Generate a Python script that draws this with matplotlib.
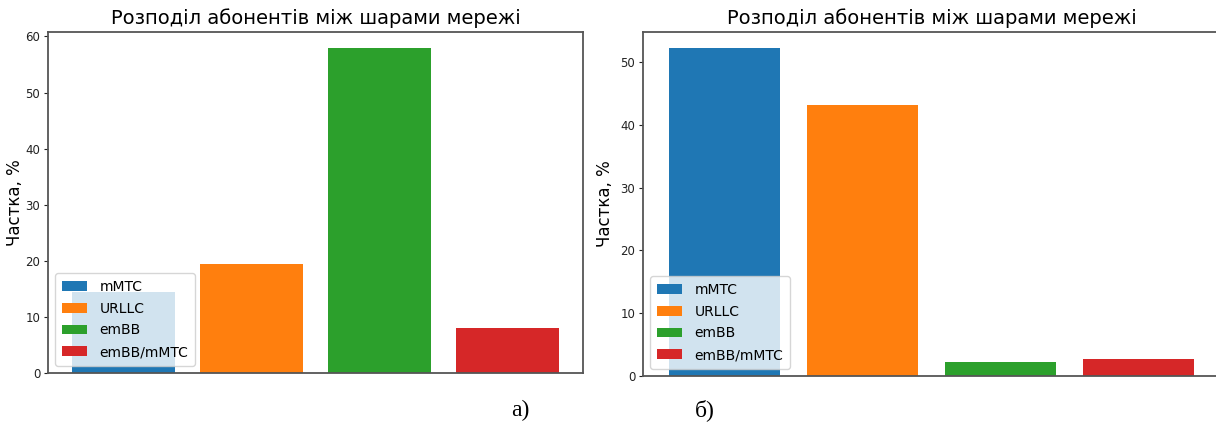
import matplotlib
matplotlib.use("Agg")
import matplotlib.pyplot as plt

categories = ["mMTC", "URLLC", "emBB", "emBB/mMTC"]
values_a = [14.4, 19.5, 57.9, 8.1]
values_b = [52.2, 43.1, 2.3, 2.7]
colors = ["#1f77b4", "#ff7f0e", "#2ca02c", "#d62728"]
title = "Розподіл абонентів між шарами мережі"
ylabel = "Частка, %"
panel_labels = ["а)", "б)"]

plt.rcParams["font.family"] = ["DejaVu Sans"]

W, H = 1216, 425
fig = plt.figure(figsize=(W / 100, H / 100), dpi=100)

def px_axes(x0, x1, ytop, ybot):
    return fig.add_axes([x0 / W, (H - ybot) / H, (x1 - x0) / W, (ybot - ytop) / H])

ax_a = px_axes(48, 583, 32, 373)
ax_b = px_axes(643, 1220, 32, 376)

for ax, vals, x0, x1, lab_off in ((ax_a, values_a, 48, 583, -24), (ax_b, values_b, 643, 1220, -29)):
    for i, (c, v, col) in enumerate(zip(categories, vals, colors)):
        ax.bar(i, v, width=0.8, color=col, label=c)
    ax.set_xticks([])
    ax.set_title(title, fontsize=14, pad=6)
    ax.set_ylabel(ylabel, fontsize=12)
    ax.yaxis.set_label_coords(lab_off / (x1 - x0), 0.5)
    ax.tick_params(axis="y", labelsize=8.5, colors="#222222", length=3, pad=2.5)
    for s in ax.spines.values():
        s.set_color("#555555")
        s.set_linewidth(1.3)
    ax.legend(loc="lower left", fontsize=10, handlelength=1.8, borderpad=0.5,
              labelspacing=0.55, handletextpad=0.9)

fig.text(520 / W, 1 - 410 / H, panel_labels[0], fontsize=17, family="Liberation Serif",
         ha="center", va="center")
fig.text(705 / W, 1 - 410 / H, panel_labels[1], fontsize=17, family="Liberation Serif",
         ha="center", va="center")

fig.savefig("out.png", dpi=100)
